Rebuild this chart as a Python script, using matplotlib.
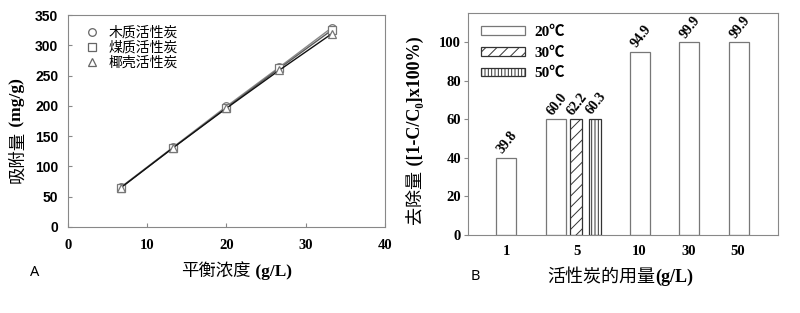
import matplotlib.pyplot as plt
from matplotlib.lines import Line2D
from matplotlib.patches import Patch

plt.rcParams['hatch.linewidth'] = 0.7

SERIF_B = {'family': ['Liberation Serif', 'DejaVu Serif'], 'weight': 'bold'}
CJK = {'family': ['Noto Sans CJK SC', 'DejaVu Sans']}

# panel A: adsorption vs equilibrium concentration
conc = [6.7, 13.3, 20.0, 26.7, 33.3]
wood = [66, 132, 199, 264, 329]
coal = [65, 131, 197, 262, 325]
coconut = [65, 131, 196, 259, 319]
series_names = ['木质活性炭', '煤质活性炭', '椰壳活性炭']

# panel B: removal vs dosage
dosage = ['1', '5', '10', '30', '50']
removal_20 = [39.8, 60.0, 94.9, 99.9, 99.9]
removal_30 = [60.0]
removal_50 = [60.3]
labels_30 = ['62.2']
labels_50 = ['60.3']
temps = ['20℃', '30℃', '50℃']


def px(x, y):
    return x / 800, 1 - y / 313


def split_label(x, y, cjk, latin, size, vertical=False):
    # chinese part in sans, latin part in bold serif, joined at (x, y)
    if vertical:
        fig.text(*px(x, y), cjk, rotation=90, ha='center', va='top', size=size, **CJK)
        fig.text(*px(x, y), latin, rotation=90, ha='center', va='bottom', size=size, **SERIF_B)
    else:
        fig.text(*px(x, y), cjk, ha='right', va='center', size=size, **CJK)
        fig.text(*px(x, y), latin, ha='left', va='center', size=size, **SERIF_B)


fig = plt.figure(figsize=(8, 3.13), dpi=100)

# ---------- A ----------
ax = fig.add_axes([0.085, 0.275, 0.396, 0.677])
styles = [('o', '#8a8a8a'), ('s', '#5a5a5a'), ('^', '#111111')]
for ys, (mk, lc) in zip([wood, coal, coconut], styles):
    ax.plot(conc, ys, color=lc, lw=1.0, marker=mk, ms=5.5,
            mfc='white', mec='#777777', mew=0.9)
ax.set_xlim(0, 40)
ax.set_ylim(0, 350)
ax.set_xticks(range(0, 41, 10))
ax.set_yticks(range(0, 351, 50))
ax.tick_params(direction='in', length=3, color='#888888')
ax.tick_params(axis='x', pad=9)
ax.tick_params(axis='y', pad=7)
for lab in ax.get_xticklabels():
    lab.set_fontproperties({**SERIF_B, 'size': 10.5})
for lab in ax.get_yticklabels():
    lab.set_fontproperties({'family': 'Liberation Sans', 'weight': 'bold', 'size': 10})
for s in ax.spines.values():
    s.set_color('#888888')
handles = [Line2D([], [], ls='none', marker=m, ms=5.5, mfc='white', mec='#666666', mew=0.9)
           for m, _ in styles]
ax.legend(handles, series_names, loc='upper left', frameon=False,
          prop={**CJK, 'size': 10}, handlelength=1.0,
          handletextpad=0.7, labelspacing=0.08, borderaxespad=0.35,
          bbox_to_anchor=(0.02, 1.0))

split_label(17, 131, '吸附量', ' (mg/g)', 12.5, vertical=True)
split_label(251, 272, '平衡浓度', ' (g/L)', 12.5)
fig.text(*px(35, 272), 'A', ha='center', va='center', family='Noto Sans', size=10.5)

# ---------- B ----------
bx = fig.add_axes([0.585, 0.249, 0.3875, 0.709])
pos_20 = [38, 88, 172, 221, 271]
pos_30 = [108]
pos_50 = [127]
tick_pos = [38, 109, 171, 221, 270]

bx.bar(pos_20, removal_20, width=20, color='white', edgecolor='#777777', lw=0.9)
bx.bar(pos_30, removal_30, width=12.5, color='white', edgecolor='#333333', lw=0.9,
       hatch='///')
bx.bar(pos_50, removal_50, width=12.5, color='white', edgecolor='#333333', lw=0.9,
       hatch='|||||')

val_font = {**SERIF_B, 'size': 10}
for x, v in zip(pos_20, removal_20):
    bx.text(x + 1, v + 1.0, f'{v:.1f}', rotation=52, ha='center', va='bottom', **val_font)
for x, v, t in zip(pos_30, removal_30, labels_30):
    bx.text(x + 1, v + 1.0, t, rotation=52, ha='center', va='bottom', **val_font)
for x, v, t in zip(pos_50, removal_50, labels_50):
    bx.text(x + 1, v + 1.0, t, rotation=52, ha='center', va='bottom', **val_font)

bx.set_xlim(0, 310)
bx.set_ylim(0, 115)
bx.set_xticks(tick_pos)
bx.set_xticklabels(dosage)
bx.set_yticks(range(0, 101, 20))
bx.tick_params(axis='x', length=0, pad=7)
bx.tick_params(axis='y', direction='out', length=3, color='#888888', pad=2)
for lab in bx.get_xticklabels() + bx.get_yticklabels():
    lab.set_fontproperties({**SERIF_B, 'size': 10.5})
for s in bx.spines.values():
    s.set_color('#888888')

leg_handles = [Patch(facecolor='white', edgecolor='#777777', lw=0.9),
               Patch(facecolor='white', edgecolor='#333333', lw=0.9, hatch='///'),
               Patch(facecolor='white', edgecolor='#333333', lw=0.9, hatch='|||||')]
bx.legend(leg_handles, temps, loc='upper left', frameon=False,
          prop={'family': ['Liberation Serif', 'Noto Sans CJK SC'], 'weight': 'bold', 'size': 11},
          handlelength=2.9, handleheight=0.5, handletextpad=0.6, labelspacing=0.5,
          borderaxespad=0.45, bbox_to_anchor=(0.0, 1.0))

split_label(415, 170, '去除量', ' ([1-C/C₀]x100%)', 13, vertical=True)
split_label(655, 277, '活性炭的用量', '(g/L)', 13)
fig.text(*px(475, 277), 'B', ha='center', va='center', family='Noto Sans', size=10.5)

fig.savefig('out.png', dpi=100)
